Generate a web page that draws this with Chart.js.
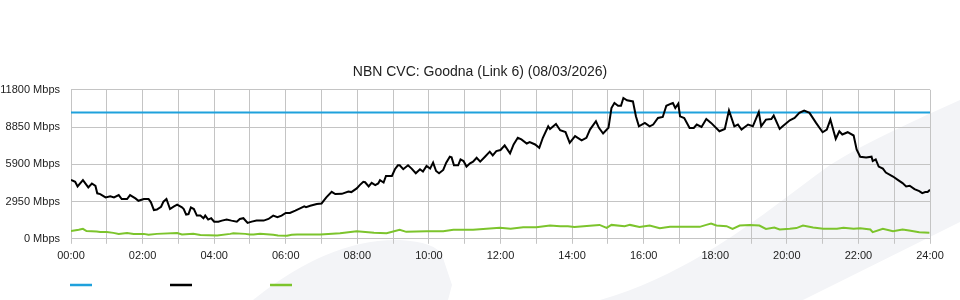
<!DOCTYPE html>
<html>
<head>
<meta charset="utf-8">
<title>NBN CVC: Goodna (Link 6)</title>
<script src="https://cdn.jsdelivr.net/npm/chart.js@4.4.1/dist/chart.umd.min.js"></script>
<style>
  html, body { margin: 0; padding: 0; }
  body {
    width: 960px;
    height: 300px;
    overflow: hidden;
    background: #fff url("data:image/svg+xml;utf8,<svg xmlns='http://www.w3.org/2000/svg' width='960' height='300' viewBox='0 0 960 300'><path fill='%23f3f4f7' d='M253,300 Q330,238 400,240 Q435,242 442,255 L452,285 L448,300 Z'/><path fill='%23f3f4f7' d='M600,300 C700,272 780,200 830,165 C870,140 920,118 960,100 L960,222 L803,300 Z'/></svg>") no-repeat 0 0;
  }
  #wrap { position: relative; width: 960px; height: 300px; }
</style>
</head>
<body>
<div id="wrap"><canvas id="cvcChart" width="960" height="300"></canvas></div>
<script>
// Eje Y (Mbps) y marcas del eje X (minutos desde 00:00)
const yTicks = [0, 2950, 5900, 8850, 11800];
const capacityMbps = 10000;

// Serie negra: tráfico de bajada (minuto, Mbps)
const downMinutes = [0, 7, 11, 20, 29, 35, 41, 44, 49, 58, 66, 72, 80, 85, 94, 99, 108, 113, 122, 130,
  134, 139, 144, 151, 155, 160, 166, 172, 178, 186, 189, 193, 197, 201, 206, 211, 217, 222, 225, 230,
  235, 240, 247, 253, 261, 269, 278, 283, 289, 296, 303, 311, 323, 331, 339, 346, 353, 360, 367, 376,
  384, 391, 394, 401, 412, 420, 428, 437, 443, 454, 465, 470, 479, 484, 490, 493, 499, 504, 510, 515,
  518, 524, 528, 538, 543, 548, 551, 557, 565, 571, 578, 585, 590, 596, 602, 607, 612, 617, 624, 629,
  635, 638, 642, 649, 653, 658, 663, 669, 674, 680, 686, 694, 702, 707, 713, 720, 727, 736, 742, 749,
  755, 764, 769, 778, 785, 791, 800, 803, 813, 820, 829, 836, 845, 856, 864, 870, 880, 885, 892, 901,
  906, 911, 917, 922, 926, 932, 942, 947, 952, 962, 970, 976, 984, 992, 998, 1006, 1009, 1013, 1018, 1021,
  1028, 1037, 1044, 1049, 1057, 1065, 1073, 1087, 1096, 1103, 1112, 1118, 1124, 1135, 1143, 1153, 1157, 1165, 1174, 1178,
  1188, 1193, 1205, 1213, 1221, 1229, 1238, 1249, 1260, 1267, 1273, 1282, 1288, 1293, 1302, 1312, 1317, 1323, 1333, 1342,
  1344, 1349, 1354, 1361, 1366, 1378, 1386, 1394, 1400, 1406, 1414, 1422, 1427, 1432, 1436, 1440];
const downMbps = [4670, 4510, 4150, 4640, 4070, 4380, 4190, 3600, 3540, 3280, 3360, 3280, 3460, 3150, 3150, 3460, 3200, 3010, 3150, 3150,
  2890, 2280, 2320, 2540, 2940, 3150, 2360, 2540, 2700, 2490, 2360, 1910, 1960, 2490, 2360, 1840, 1840, 1630, 1840, 1520,
  1630, 1360, 1360, 1440, 1520, 1440, 1360, 1570, 1630, 1260, 1360, 1440, 1440, 1570, 1840, 1710, 1840, 2050, 2050, 2230,
  2410, 2570, 2500, 2620, 2750, 2800, 3280, 3720, 3540, 3560, 3750, 3700, 3990, 4250, 4510, 4480, 4150, 4430, 4250, 4380,
  4640, 4460, 4980, 4980, 5510, 5820, 5820, 5510, 5820, 5560, 5190, 5510, 5320, 5770, 5560, 6030, 5370, 5190, 5450, 6030,
  6500, 6450, 5820, 5820, 6290, 6160, 5720, 5980, 6110, 6420, 6110, 6500, 6900, 6610, 6950, 7030, 7400, 6770, 7470, 8000,
  7870, 7550, 7660, 7470, 7210, 8000, 8910, 8700, 9100, 8600, 8450, 7600, 8130, 7790, 8000, 8650, 9310, 8790, 8340, 8790,
  10360, 10750, 10540, 10540, 11150, 10970, 10880, 9700, 8910, 9180, 8910, 9050, 9570, 9650, 10540, 10700, 10750, 10360, 10700, 9700,
  9570, 8780, 8780, 9050, 8860, 9490, 9180, 8520, 8700, 10170, 8910, 9050, 8650, 9050, 8910, 10040, 8910, 9440, 9490, 9760,
  8700, 8910, 9390, 9570, 9970, 10150, 9970, 9180, 8440, 8650, 9440, 7920, 8520, 8260, 8440, 8180, 7080, 6500, 6430, 6500,
  6160, 6290, 5720, 5560, 5250, 4930, 4670, 4410, 4150, 4200, 3930, 3780, 3620, 3700, 3700, 3880];

// Serie verde: tráfico de subida (minuto, Mbps)
const upMinutes = [0, 13, 20, 26, 43, 49, 60, 71, 80, 94, 105, 122, 130, 144, 178, 186, 205, 217, 245, 267,
  272, 292, 300, 306, 317, 339, 347, 362, 370, 379, 418, 451, 479, 508, 529, 551, 562, 596, 624, 641,
  674, 719, 737, 758, 780, 803, 820, 833, 844, 875, 886, 898, 906, 928, 937, 953, 970, 987, 1004, 1054,
  1065, 1073, 1082, 1099, 1109, 1121, 1138, 1154, 1165, 1179, 1188, 1205, 1216, 1227, 1244, 1261, 1284, 1295, 1312, 1323,
  1340, 1344, 1361, 1378, 1394, 1405, 1422, 1439];
const upMbps = [610, 710, 790, 610, 580, 530, 530, 470, 390, 450, 390, 390, 320, 390, 450, 340, 390, 310, 260, 390,
  445, 390, 340, 340, 390, 315, 262, 240, 315, 340, 340, 445, 605, 472, 445, 708, 550, 605, 605, 708,
  708, 865, 787, 918, 918, 1049, 997, 1000, 930, 1049, 1101, 865, 1101, 997, 1101, 945, 1049, 840, 945, 945,
  1101, 1206, 1049, 1000, 787, 1049, 1101, 1049, 787, 893, 735, 787, 850, 1049, 893, 787, 787, 865, 787, 840,
  735, 525, 787, 605, 735, 655, 525, 472];

const toPoints = (mins, vals) => mins.map((m, i) => ({ x: m, y: vals[i] }));
const pad2 = (n) => String(n).padStart(2, "0");

Chart.defaults.font.family = '"Liberation Sans", Arial, Helvetica, sans-serif';
Chart.defaults.color = "#333";

// Leyenda: solo las líneas de color, sin texto (como en la original)
const lineLegend = {
  id: "lineLegend",
  afterDraw(chart) {
    const { ctx, chartArea } = chart;
    ctx.save();
    ctx.lineWidth = 2.5;
    chart.data.datasets.forEach((ds, i) => {
      const x0 = chartArea.left - 1 + i * 100;
      ctx.strokeStyle = ds.borderColor;
      ctx.beginPath();
      ctx.moveTo(x0, 285);
      ctx.lineTo(x0 + 22, 285);
      ctx.stroke();
    });
    ctx.restore();
  },
};

const ctx = document.getElementById("cvcChart").getContext("2d");
new Chart(ctx, {
  type: "line",
  data: {
    datasets: [
      {
        label: "",
        data: toPoints([0, 1440], [capacityMbps, capacityMbps]),
        borderColor: "#1fa1dc",
        borderWidth: 2,
        pointRadius: 0,
        order: 2,
      },
      {
        label: "",
        data: toPoints(downMinutes, downMbps),
        borderColor: "#000000",
        borderWidth: 2,
        pointRadius: 0,
        order: 0,
      },
      {
        label: "",
        data: toPoints(upMinutes, upMbps),
        borderColor: "#7cc42c",
        borderWidth: 2,
        pointRadius: 0,
        order: 1,
      },
    ],
  },
  options: {
    responsive: false,
    animation: false,
    layout: { padding: { left: 0, right: 0, top: 0, bottom: 31 } },
    plugins: {
      legend: { display: false },
      tooltip: { enabled: false },
      title: {
        display: true,
        text: "NBN CVC: Goodna (Link 6) (08/03/2026)",
        font: { size: 14, weight: "normal" },
        color: "#222",
        padding: { top: 64, bottom: 9 },
      },
    },
    scales: {
      x: {
        type: "linear",
        min: 0,
        max: 1440,
        grid: { color: "#c4c4c4", tickLength: 5 },
        border: { color: "#c4c4c4" },
        ticks: {
          stepSize: 60,
          autoSkip: false,
          maxRotation: 0,
          padding: 6,
          font: { size: 11 },
          color: "#222",
          callback: (v) => (v % 120 === 0 ? pad2(v / 60) + ":00" : ""),
        },
      },
      y: {
        min: yTicks[0],
        max: yTicks[yTicks.length - 1],
        afterFit: (scale) => { scale.width = 71; },
        afterBuildTicks: (scale) => { scale.ticks = yTicks.map((v) => ({ value: v })); },
        grid: { color: "#c4c4c4", drawTicks: false },
        border: { color: "#c4c4c4" },
        ticks: {
          padding: 11,
          font: { size: 11 },
          color: "#222",
          callback: (v) => v + " Mbps",
        },
      },
      // margen derecho vacío, para que el título quede centrado en todo el ancho
      margen: {
        position: "right",
        afterFit: (scale) => { scale.width = 30; },
        grid: { display: false },
        border: { display: false },
        ticks: { display: false },
      },
    },
  },
  plugins: [lineLegend],
});
</script>
</body>
</html>
